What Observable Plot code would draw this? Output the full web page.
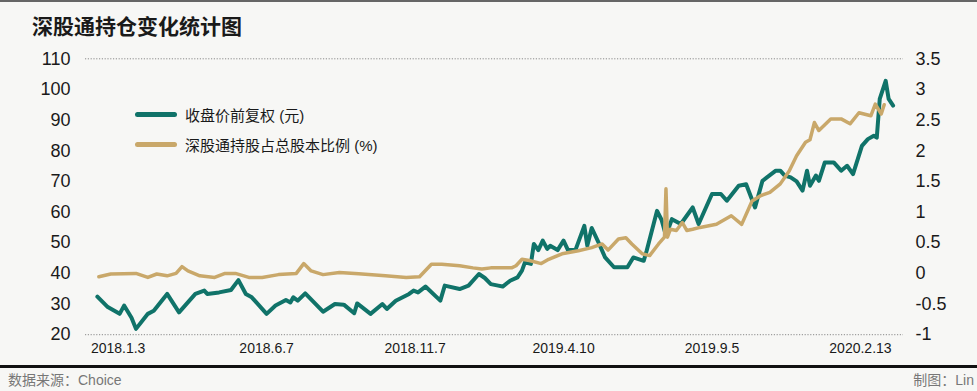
<!DOCTYPE html>
<html><head><meta charset="utf-8">
<script src="https://cdn.jsdelivr.net/npm/d3@7"></script>
<script src="https://cdn.jsdelivr.net/npm/@observablehq/plot@0.6"></script>
<style>
body{margin:0;background:#f7f7f5;}
#wrap{position:relative;width:977px;height:391px;background:#f7f7f5;overflow:hidden;font-family:"Liberation Sans",Arial,"Noto Sans CJK SC",sans-serif;color:#1a1a1a;}
#topline{position:absolute;left:0;top:0;width:977px;height:2px;background:#666;}
#title{position:absolute;left:32px;top:11px;font-size:21px;font-weight:bold;line-height:28px;font-family:"Noto Sans CJK SC",sans-serif;color:#1a1a1a;}
#chart{position:absolute;left:0;top:0;}
.leg{position:absolute;left:135px;height:30px;display:flex;align-items:center;font-size:15px;white-space:nowrap;}
.sw{width:42px;height:5px;border-radius:3px;margin-right:8px;}
#botline{position:absolute;left:0;top:365px;width:977px;height:3px;background:#111;}
#src{position:absolute;left:8px;top:371px;font-size:14px;color:#777;line-height:18px;}
#auth{position:absolute;right:3px;top:371px;font-size:14px;color:#777;line-height:18px;}
</style></head>
<body>
<div id="wrap">
  <div id="topline"></div>
  <div id="title">深股通持仓变化统计图</div>
  <div id="chart"></div>
  <div class="leg" style="top:99px"><div class="sw" style="background:#107369"></div>收盘价前复权 (元)</div>
  <div class="leg" style="top:129px"><div class="sw" style="background:#c9a86a"></div>深股通持股占总股本比例 (%)</div>
  <div id="botline"></div>
  <div id="src">数据来源：Choice</div>
  <div id="auth">制图：Lin</div>
</div>
<script>
// x = trading-day index (labels every 100 trading days)
const tickT = [15, 115, 215, 315, 415, 515];
const tickLabels = ["2018.1.3", "2018.6.7", "2018.11.7", "2019.4.10", "2019.9.5", "2020.2.13"];
const leftTicks = [20, 30, 40, 50, 60, 70, 80, 90, 100, 110];
const rightTicks = [-1, -0.5, 0, 0.5, 1, 1.5, 2, 2.5, 3, 3.5];

// 收盘价前复权 (元)
const priceT = [1, 8, 16, 19, 24, 27, 35, 39, 48, 56, 67, 73, 75, 83, 91, 96, 101, 105, 115, 121, 128, 131, 133, 136, 141, 153, 161, 167, 174, 176, 185, 193, 196, 202, 211, 214, 217, 222, 232, 235, 245, 251, 258, 262, 266, 271, 274, 279, 284, 287, 289, 293, 295, 298, 301, 304, 306, 311, 315, 318, 323, 329, 331, 334, 339, 343, 349, 358, 362, 369, 371, 378, 381, 384, 388, 394, 402, 406, 415, 421, 425, 433, 438, 444, 449, 452, 458, 461, 464, 468, 472, 476, 479, 481, 485, 487, 491, 497, 502, 506, 510, 516, 520, 524, 526, 528, 532, 534, 537];
const priceV = [32.4, 29.0, 26.8, 29.5, 25.5, 21.9, 26.8, 27.8, 33.3, 27.3, 33.3, 34.4, 33.3, 33.8, 34.6, 37.8, 33.3, 32.2, 26.8, 29.5, 31.3, 30.5, 32.2, 31.1, 33.5, 27.5, 30.0, 29.8, 27.0, 30.2, 26.8, 30.0, 28.4, 31.1, 33.3, 34.4, 33.8, 35.7, 31.1, 36.0, 34.9, 36.0, 39.8, 38.5, 36.5, 36.0, 35.7, 37.6, 38.7, 40.9, 43.6, 43.1, 49.6, 47.6, 50.7, 48.0, 49.0, 47.6, 50.7, 47.6, 47.6, 55.5, 49.0, 54.8, 49.6, 45.2, 42.0, 42.0, 45.2, 44.1, 47.4, 60.4, 57.5, 52.3, 57.7, 56.1, 61.5, 56.1, 65.9, 65.9, 63.7, 68.6, 69.1, 61.5, 70.2, 71.3, 73.5, 73.5, 71.9, 71.3, 70.0, 67.0, 73.5, 68.6, 71.9, 70.2, 76.2, 76.2, 73.5, 75.1, 72.4, 81.6, 83.8, 84.9, 84.3, 96.9, 102.8, 96.9, 94.7];

// 深股通持股占总股本比例 (%)
const ratioT = [2, 10, 27, 35, 41, 48, 54, 58, 62, 70, 80, 87, 94, 103, 112, 123, 135, 140, 145, 153, 164, 177, 195, 209, 218, 226, 233, 245, 254, 260, 266, 280, 283, 287, 292, 300, 305, 314, 325, 334, 341, 345, 352, 357, 361, 368, 373, 379, 383, 384, 385, 387, 391, 395, 398, 402, 407, 418, 428, 435, 442, 448, 454, 461, 467, 472, 478, 481, 484, 487, 495, 502, 508, 514, 522, 525, 529, 531];
const ratioV = [-0.055, -0.01, 0.0, -0.066, -0.01, -0.04, 0.0, 0.11, 0.04, -0.04, -0.066, 0.0, 0.0, -0.066, -0.066, -0.02, 0.0, 0.16, 0.04, -0.02, 0.015, -0.005, -0.04, -0.066, -0.055, 0.15, 0.15, 0.125, 0.09, 0.07, 0.09, 0.09, 0.125, 0.23, 0.21, 0.16, 0.23, 0.32, 0.37, 0.42, 0.48, 0.38, 0.56, 0.58, 0.48, 0.32, 0.29, 0.48, 0.59, 1.38, 0.59, 0.72, 0.70, 0.83, 0.70, 0.72, 0.75, 0.80, 0.94, 0.80, 1.18, 1.27, 1.32, 1.46, 1.67, 1.92, 2.14, 2.18, 2.46, 2.33, 2.52, 2.52, 2.44, 2.62, 2.57, 2.76, 2.60, 2.75];

const teal = "#107369", gold = "#c9a86a";
const price = priceT.map((t, i) => ({t, v: priceV[i]}));
const ratio = ratioT.map((t, i) => ({t, r: ratioV[i]}));
// right axis maps onto left scale: r = (v - 40) / 20
const toLeft = r => 40 + 20 * r;
const fmtR = v => { const r = Math.round((v - 40) / 20 * 10) / 10; return String(r); };

const chart = Plot.plot({
  width: 977, height: 391,
  marginTop: 58.3, marginBottom: 391 - 334.2, marginLeft: 85, marginRight: 74,
  x: {domain: [-7, 544], label: null},
  y: {domain: [20, 110], label: null},
  style: {background: "transparent", fontFamily: "'Liberation Sans', Arial, sans-serif", color: "#1a1a1a", overflow: "visible"},
  marks: [
    Plot.ruleY([20, 110], {stroke: "#8a8a8a", strokeWidth: 1, strokeDasharray: "1.2,1.6"}),
    Plot.axisY(leftTicks, {anchor: "left", tickSize: 0, tickPadding: 15, fontSize: 18, label: null}),
    Plot.axisY(rightTicks.map(toLeft), {anchor: "right", tickSize: 0, tickPadding: 12, fontSize: 18, tickFormat: fmtR, label: null}),
    Plot.axisX(tickT, {anchor: "bottom", tickSize: 0, tickPadding: 8, fontSize: 14, tickFormat: d => tickLabels[tickT.indexOf(d)], label: null}),
    Plot.lineY(price, {x: "t", y: "v", stroke: teal, strokeWidth: 4, strokeLinejoin: "round", strokeLinecap: "round"}),
    Plot.lineY(ratio, {x: "t", y: d => toLeft(d.r), stroke: gold, strokeWidth: 3.5, strokeLinejoin: "round", strokeLinecap: "round"})
  ]
});
document.getElementById("chart").appendChild(chart);
</script>
</body></html>
